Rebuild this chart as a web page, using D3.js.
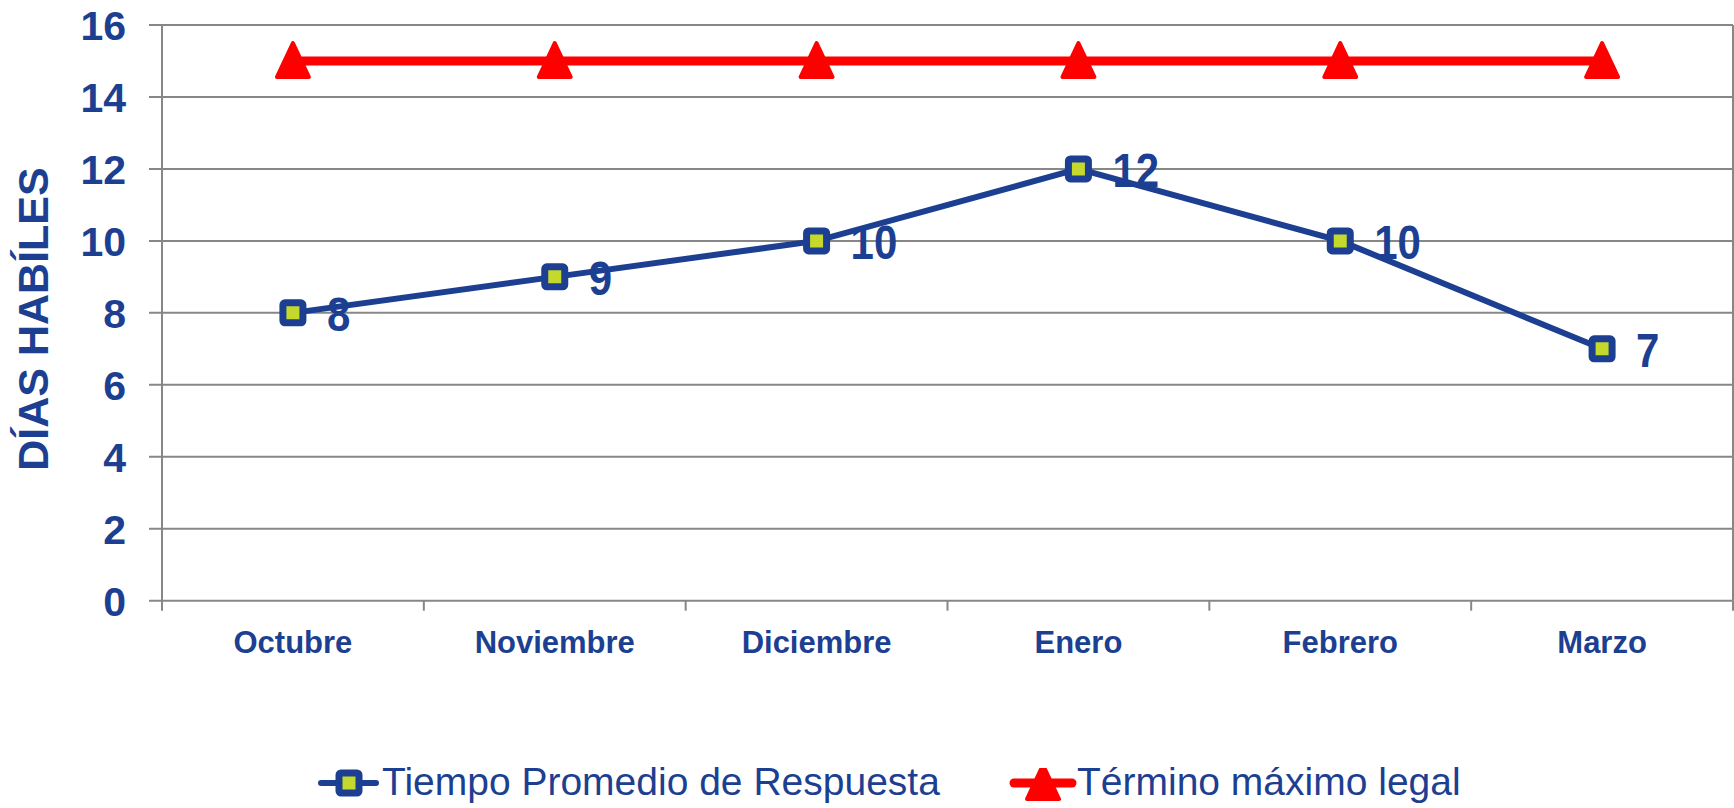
<!DOCTYPE html>
<html>
<head>
<meta charset="utf-8">
<script src="https://cdn.jsdelivr.net/npm/d3@7"></script>
<style>
  body { margin: 0; background: #fff; }
  svg text { font-family: "Liberation Sans", Arial, sans-serif; }
</style>
</head>
<body>
<svg id="chart" width="1734" height="808"></svg>
<script>
// chart data
const months = ["Octubre", "Noviembre", "Diciembre", "Enero", "Febrero", "Marzo"];
const tiempoPromedio = [8, 9, 10, 12, 10, 7];
const terminoLegal = [15, 15, 15, 15, 15, 15];
const yTicks = [0, 2, 4, 6, 8, 10, 12, 14, 16];
const seriesNames = ["Tiempo Promedio de Respuesta", "Término máximo legal"];

(function () {
  const blue = "#1d3f91";
  const lime = "#c5d92d";
  const red = "#ff0000";
  const grid = "#878787";

  const svg = d3.select("#chart");
  const left = 162, right = 1733, top = 25, bottom = 600.7;

  const x = d3.scaleBand().domain(months).range([left, right]).padding(0);
  const y = d3.scaleLinear().domain([0, 16]).range([bottom, top]);
  const cx = (d, i) => x(months[i]) + x.bandwidth() / 2;

  // gridlines
  svg.append("g")
    .selectAll("line")
    .data(yTicks)
    .enter()
    .append("line")
    .attr("x1", left - 13)
    .attr("x2", right)
    .attr("y1", (d) => y(d))
    .attr("y2", (d) => y(d))
    .attr("stroke", grid)
    .attr("stroke-width", 2);

  // left axis
  const yAxis = svg.append("g")
    .attr("transform", `translate(${left},0)`)
    .call(d3.axisLeft(y).tickValues(yTicks).tickSize(0).tickPadding(36));
  yAxis.select(".domain").remove();
  yAxis.selectAll("text")
    .attr("fill", blue)
    .attr("font-size", 41)
    .attr("font-weight", "bold")
    .attr("dy", "0.36em");
  svg.append("line")
    .attr("x1", left).attr("x2", left)
    .attr("y1", top).attr("y2", bottom + 10)
    .attr("stroke", grid).attr("stroke-width", 2);
  // right border
  svg.append("line")
    .attr("x1", right).attr("x2", right)
    .attr("y1", top).attr("y2", bottom)
    .attr("stroke", grid).attr("stroke-width", 2);

  // bottom axis
  const xAxis = svg.append("g")
    .attr("transform", `translate(0,${bottom})`)
    .call(d3.axisBottom(x).tickSize(0).tickPadding(52));
  xAxis.select(".domain").remove();
  xAxis.selectAll("text")
    .attr("fill", blue)
    .attr("font-size", 31)
    .attr("font-weight", "bold")
    .attr("dy", 0);
  svg.append("g")
    .selectAll("line")
    .data(months)
    .enter()
    .append("line")
    .attr("x1", (d) => x(d) + x.bandwidth())
    .attr("x2", (d) => x(d) + x.bandwidth())
    .attr("y1", bottom)
    .attr("y2", bottom + 10)
    .attr("stroke", grid)
    .attr("stroke-width", 2);

  // y title
  svg.append("text")
    .attr("transform", "translate(48,319) rotate(-90)")
    .attr("text-anchor", "middle")
    .attr("fill", blue)
    .attr("font-size", 43)
    .attr("font-weight", "bold")
    .text("DÍAS HABÍLES");

  const line = d3.line().x(cx).y((d) => y(d));
  const triPath = "M0,-18 L16,16 L-16,16 Z";

  // red legal line
  svg.append("path")
    .datum(terminoLegal)
    .attr("d", line)
    .attr("fill", "none")
    .attr("stroke", red)
    .attr("stroke-width", 9);
  svg.append("g")
    .selectAll("path")
    .data(terminoLegal)
    .enter()
    .append("path")
    .attr("d", triPath)
    .attr("transform", (d, i) => `translate(${cx(d, i)},${y(d)})`)
    .attr("fill", red)
    .attr("stroke", red)
    .attr("stroke-width", 4)
    .attr("stroke-linejoin", "round");

  // blue series
  svg.append("path")
    .datum(tiempoPromedio)
    .attr("d", line)
    .attr("fill", "none")
    .attr("stroke", blue)
    .attr("stroke-width", 6);
  svg.append("g")
    .selectAll("rect")
    .data(tiempoPromedio)
    .enter()
    .append("rect")
    .attr("x", (d, i) => cx(d, i) - 10)
    .attr("y", (d) => y(d) - 10)
    .attr("width", 20)
    .attr("height", 20)
    .attr("rx", 2)
    .attr("fill", lime)
    .attr("stroke", blue)
    .attr("stroke-width", 7)
    .attr("stroke-linejoin", "round");

  // data labels
  svg.append("g")
    .selectAll("text")
    .data(tiempoPromedio)
    .enter()
    .append("text")
    .attr("transform", (d, i) => `translate(${cx(d, i) + 34},${y(d) + 18}) scale(1,1.16)`)
    .attr("fill", blue)
    .attr("font-size", 42)
    .attr("font-weight", "bold")
    .text((d) => d);

  // legend
  svg.append("clipPath").attr("id", "legclip")
    .append("rect").attr("x", 0).attr("y", 768).attr("width", 1734).attr("height", 40);
  const leg = svg.append("g").attr("clip-path", "url(#legclip)");
  const legY = 783;

  leg.append("line")
    .attr("x1", 321).attr("x2", 376)
    .attr("y1", legY).attr("y2", legY)
    .attr("stroke", blue).attr("stroke-width", 6).attr("stroke-linecap", "round");
  leg.append("rect")
    .attr("x", 349 - 10).attr("y", legY - 10)
    .attr("width", 20).attr("height", 20).attr("rx", 2)
    .attr("fill", lime).attr("stroke", blue).attr("stroke-width", 7);
  svg.append("text")
    .attr("x", 382).attr("y", 795)
    .attr("fill", blue).attr("font-size", 39)
    .text(seriesNames[0]);

  leg.append("line")
    .attr("x1", 1014).attr("x2", 1072)
    .attr("y1", legY).attr("y2", legY)
    .attr("stroke", red).attr("stroke-width", 9).attr("stroke-linecap", "round");
  leg.append("path")
    .attr("d", triPath)
    .attr("transform", `translate(1043,${legY})`)
    .attr("fill", red).attr("stroke", red)
    .attr("stroke-width", 4).attr("stroke-linejoin", "round");
  svg.append("text")
    .attr("x", 1077).attr("y", 795)
    .attr("fill", blue).attr("font-size", 39)
    .text(seriesNames[1]);
})();
</script>
</body>
</html>
